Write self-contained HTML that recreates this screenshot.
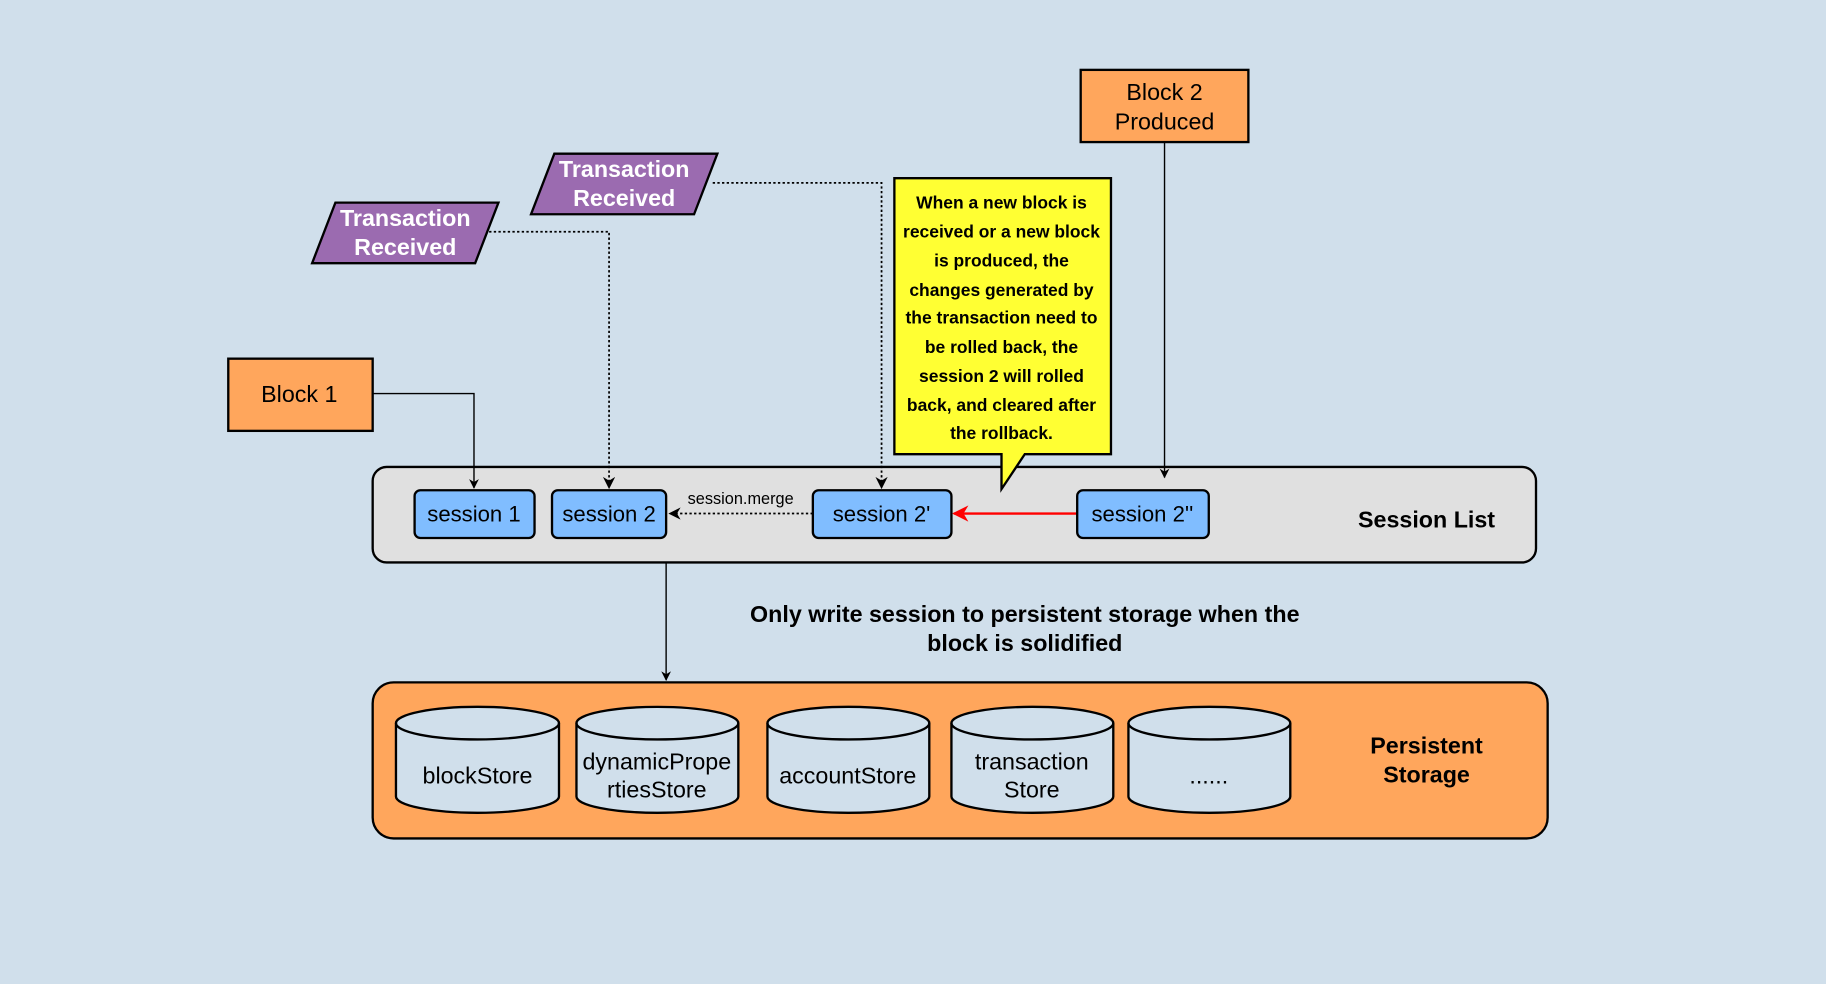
<!DOCTYPE html>
<html><head><meta charset="utf-8"><style>
html,body{margin:0;padding:0;background:#d0dfeb;}
svg{display:block;}
text{font-family:"Liberation Sans",Arial,sans-serif;}
</style></head><body>
<svg width="1826" height="984" viewBox="0 0 1568 845" xmlns="http://www.w3.org/2000/svg">
<defs>
<marker id="a" viewBox="0 0 10 10" refX="9" refY="5" markerWidth="7" markerHeight="7" orient="auto"><path d="M0,0 L10,5 L0,10 L3,5 z" fill="#000"/></marker>
<marker id="r" viewBox="0 0 10 10" refX="9" refY="5" markerWidth="7" markerHeight="7" orient="auto"><path d="M0,0 L10,5 L0,10 L3,5 z" fill="#f00"/></marker>
</defs>
<rect width="1568" height="845" fill="#d0dfeb"/>
<!-- session list -->
<rect x="320" y="401" width="999" height="82" rx="12" fill="#e0e0e0" stroke="#000" stroke-width="2"/>
<text x="1225" y="453" font-size="20" font-weight="bold" text-anchor="middle">Session List</text>
<!-- connectors -->
<path d="M320,338 H407 V419" fill="none" stroke="#000" stroke-width="1.2" marker-end="url(#a)"/>
<path d="M420,199 H523 V419" fill="none" stroke="#000" stroke-width="1.5" stroke-dasharray="2,2" marker-end="url(#a)"/>
<path d="M612,157 H757 V419" fill="none" stroke="#000" stroke-width="1.5" stroke-dasharray="2,2" marker-end="url(#a)"/>
<path d="M1000,122 V410" fill="none" stroke="#000" stroke-width="1.2" marker-end="url(#a)"/>
<path d="M698,441 H575" fill="none" stroke="#000" stroke-width="1.5" stroke-dasharray="2,2" marker-end="url(#a)"/>
<path d="M925,441 H819" fill="none" stroke="#f00" stroke-width="2" marker-end="url(#r)"/>
<path d="M572,483 V584" fill="none" stroke="#000" stroke-width="1.2" marker-end="url(#a)"/>
<text x="636" y="433" font-size="14" text-anchor="middle">session.merge</text>
<!-- sessions -->
<g fill="#80bdff" stroke="#000" stroke-width="2">
<rect x="356" y="421" width="103" height="41" rx="5"/>
<rect x="474" y="421" width="98" height="41" rx="5"/>
<rect x="698" y="421" width="119" height="41" rx="5"/>
<rect x="925" y="421" width="113" height="41" rx="5"/>
</g>
<g font-size="19" text-anchor="middle">
<text x="407" y="448">session 1</text>
<text x="523" y="448">session 2</text>
<text x="757" y="448">session 2'</text>
<text x="981" y="448">session 2''</text>
</g>
<!-- blocks -->
<rect x="196" y="308" width="124" height="62" fill="#ffa65c" stroke="#000" stroke-width="2"/>
<text x="257" y="345" font-size="20" text-anchor="middle">Block 1</text>
<rect x="928" y="60" width="144" height="62" fill="#ffa65c" stroke="#000" stroke-width="2"/>
<text x="1000" y="86" font-size="20" text-anchor="middle">Block 2</text>
<text x="1000" y="111" font-size="20" text-anchor="middle">Produced</text>
<!-- transactions -->
<polygon points="288,174 428,174 408,226 268,226" fill="#9b6bb0" stroke="#000" stroke-width="2"/>
<text x="348" y="194" font-size="20" font-weight="bold" fill="#fff" text-anchor="middle">Transaction</text>
<text x="348" y="219" font-size="20" font-weight="bold" fill="#fff" text-anchor="middle">Received</text>
<polygon points="476,132 616,132 596,184 456,184" fill="#9b6bb0" stroke="#000" stroke-width="2"/>
<text x="536" y="152" font-size="20" font-weight="bold" fill="#fff" text-anchor="middle">Transaction</text>
<text x="536" y="177" font-size="20" font-weight="bold" fill="#fff" text-anchor="middle">Received</text>
<!-- callout -->
<path d="M768,153 H954 V390 H880 L860,420 L860,390 H768 Z" fill="#ffff33" stroke="#000" stroke-width="2"/>
<g font-size="15" font-weight="bold" text-anchor="middle">
<text x="860" y="179">When a new block is</text>
<text x="860" y="204">received or a new block</text>
<text x="860" y="229">is produced, the</text>
<text x="860" y="254">changes generated by</text>
<text x="860" y="278">the transaction need to</text>
<text x="860" y="303">be rolled back, the</text>
<text x="860" y="328">session 2 will rolled</text>
<text x="860" y="353">back, and cleared after</text>
<text x="860" y="377">the rollback.</text>
</g>
<text x="880" y="534" font-size="20" font-weight="bold" text-anchor="middle">Only write session to persistent storage when the</text>
<text x="880" y="559" font-size="20" font-weight="bold" text-anchor="middle">block is solidified</text>
<!-- persistent storage -->
<rect x="320" y="586" width="1009" height="134" rx="18" fill="#ffa65c" stroke="#000" stroke-width="2"/>
<text x="1225" y="647" font-size="20" font-weight="bold" text-anchor="middle">Persistent</text>
<text x="1225" y="672" font-size="20" font-weight="bold" text-anchor="middle">Storage</text>
<g fill="#d0dfeb" stroke="#000" stroke-width="2">
<path d="M340,621 V684 A70,14 0 0 0 480,684 V621 A70,14 0 0 0 340,621 Z"/><path d="M340,621 A70,14 0 0 0 480,621" fill="none"/>
<path d="M495,621 V684 A69.5,14 0 0 0 634,684 V621 A69.5,14 0 0 0 495,621 Z"/><path d="M495,621 A69.5,14 0 0 0 634,621" fill="none"/>
<path d="M659,621 V684 A69.5,14 0 0 0 798,684 V621 A69.5,14 0 0 0 659,621 Z"/><path d="M659,621 A69.5,14 0 0 0 798,621" fill="none"/>
<path d="M817,621 V684 A69.5,14 0 0 0 956,684 V621 A69.5,14 0 0 0 817,621 Z"/><path d="M817,621 A69.5,14 0 0 0 956,621" fill="none"/>
<path d="M969,621 V684 A69.5,14 0 0 0 1108,684 V621 A69.5,14 0 0 0 969,621 Z"/><path d="M969,621 A69.5,14 0 0 0 1108,621" fill="none"/>
</g>
<g font-size="20" text-anchor="middle">
<text x="410" y="673">blockStore</text>
<text x="564" y="661">dynamicPrope</text>
<text x="564" y="685">rtiesStore</text>
<text x="728" y="673">accountStore</text>
<text x="886" y="661">transaction</text>
<text x="886" y="685">Store</text>
<text x="1038" y="673">......</text>
</g>
</svg>
</body></html>
